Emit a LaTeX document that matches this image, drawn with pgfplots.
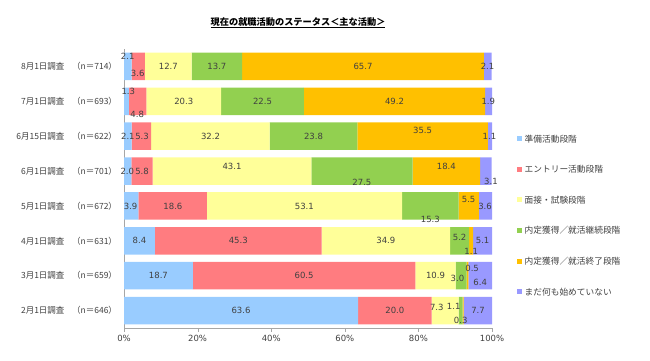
\documentclass[border=0pt]{standalone}
\usepackage{pgfplots}
\pgfplotsset{compat=1.18}
\usepackage{pgfplotstable}
\usepackage{fontspec}
\setmainfont{DejaVu Sans}
\newfontfamily\jp{Noto Sans CJK JP}
\definecolor{cA}{HTML}{99CCFF}
\definecolor{cB}{HTML}{FF7C80}
\definecolor{cC}{HTML}{FFFF99}
\definecolor{cD}{HTML}{92D050}
\definecolor{cE}{HTML}{FFC000}
\definecolor{cF}{HTML}{9999FF}
\definecolor{txt}{HTML}{404040}
\definecolor{axc}{HTML}{A6A6A6}

\pgfplotstableread{
y a b c d e f
0 63.6 20.0 7.3 1.1 0.3 7.7
1 18.7 60.5 10.9 3.0 0.5 6.4
2 8.4 45.3 34.9 5.2 1.1 5.1
3 3.9 18.6 53.1 15.3 5.5 3.6
4 2.0 5.8 43.1 27.5 18.4 3.1
5 2.1 5.3 32.2 23.8 35.5 1.1
6 1.3 4.8 20.3 22.5 49.2 1.9
7 2.1 3.6 12.7 13.7 65.7 2.1
}\datatable

\pgfplotstableread{
x y t
31.8 0 63.6
73.6 0 20.0
85.0 0.10 7.3
89.6 0.13 1.1
91.5 -0.29 0.3
96.2 0 7.7
9.35 1 18.7
48.95 1 60.5
84.65 1 10.9
90.6 0.92 3.0
94.6 1.20 0.5
96.8 0.81 6.4
4.2 2 8.4
31.05 2 45.3
71.15 2 34.9
91.2 2.11 5.2
94.35 1.69 1.1
97.45 2 5.1
1.8 3 3.9
13.3 3 18.6
49.0 3 53.1
83.25 2.62 15.3
93.65 3.19 5.5
98.1 3 3.6
0.9 4 2.0
4.9 4 5.8
29.35 4.14 43.1
64.65 3.68 27.5
87.6 4.13 18.4
99.7 3.70 3.1
1.05 5 2.1
4.9 5 5.3
23.5 5 32.2
51.5 5 23.8
81.15 5.17 35.5
99.3 5 1.1
1.17 6.29 1.3
3.6 5.62 4.8
16.25 6 20.3
37.65 6 22.5
73.5 6 49.2
99.0 6 1.9
1.0 7.28 2.1
3.72 6.79 3.6
12.05 7 12.7
25.25 7 13.7
64.95 7 65.7
98.8 7 2.1
}\labeltable

\pgfplotsset{
  common/.style={
    scale only axis,
    width=368bp, height=279bp,
    xmin=0, xmax=100,
    ymin=-0.5, ymax=7.5,
    at={(124bp,33bp)}, anchor=south west,
  }
}

\begin{document}
\begin{tikzpicture}
\path[use as bounding box] (0,0) rectangle (650bp,361bp);
\begin{axis}[
  common,
  xbar stacked,
  bar width=27.5bp,
  axis x line*=bottom,
  axis y line*=left,
  axis line style={axc},
  tick style={axc},
  tick align=outside,
  xtick={0,20,40,60,80,100},
  xticklabels={0\%,20\%,40\%,60\%,80\%,100\%},
  xticklabel style={font=\fontsize{8.5bp}{10bp}\selectfont, text=txt},
  major tick length=3.5bp,
  ytick={0,...,7},
  yticklabels={
    2月1日調査\hspace{0.9em}（n＝646）,
    3月1日調査\hspace{0.9em}（n＝659）,
    4月1日調査\hspace{0.9em}（n＝631）,
    5月1日調査\hspace{0.9em}（n＝672）,
    6月1日調査\hspace{0.9em}（n＝701）,
    6月15日調査\hspace{0.9em}（n＝622）,
    7月1日調査\hspace{0.9em}（n＝693）,
    8月1日調査\hspace{0.9em}（n＝714）},
  yticklabel style={font=\jp\fontsize{8.5bp}{10bp}\selectfont, text=txt},
  ytick style={draw=none},
  minor ytick={-0.5,0.5,...,7.5},
  minor tick style={axc},
  minor tick length=3bp,
  title={\jp\bfseries\fontsize{9.2bp}{11bp}\selectfont\underline{現在の就職活動のステータス＜主な活動＞}},
  title style={at={(axis description cs:0.473,1)}, anchor=base, yshift=18bp, text=black},
  legend style={draw=none, fill=none, at={(1.068,0.692)}, anchor=north west,
    inner sep=0pt, row sep=21.6bp,
    font=\jp\fontsize{8.7bp}{10bp}\selectfont, text=txt,
    nodes={inner sep=0pt, text height=7bp, text depth=2bp},
    /tikz/every odd column/.style={column sep=2.5bp}},
  legend cell align=left,
  legend image code/.code={\fill[#1] (0bp,-1.5bp) rectangle (5bp,3.5bp);},
]
\addplot[fill=cA, draw=none] table[x=a, y=y] {\datatable};
\addplot[fill=cB, draw=none] table[x=b, y=y] {\datatable};
\addplot[fill=cC, draw=none] table[x=c, y=y] {\datatable};
\addplot[fill=cD, draw=none] table[x=d, y=y] {\datatable};
\addplot[fill=cE, draw=none] table[x=e, y=y] {\datatable};
\addplot[fill=cF, draw=none] table[x=f, y=y] {\datatable};
\legend{準備活動段階, エントリー活動段階, 面接・試験段階, 内定獲得／就活継続段階, 内定獲得／就活終了段階, まだ何も始めていない}
\end{axis}
\begin{axis}[
  common,
  hide axis,
  clip=false,
]
\addplot[only marks, mark=none, point meta=explicit symbolic,
  nodes near coords,
  nodes near coords style={anchor=center, inner sep=0pt, text=txt, font=\fontsize{8.5bp}{10bp}\selectfont},
] table[x=x, y=y, meta=t] {\labeltable};
\end{axis}
\end{tikzpicture}
\end{document}
